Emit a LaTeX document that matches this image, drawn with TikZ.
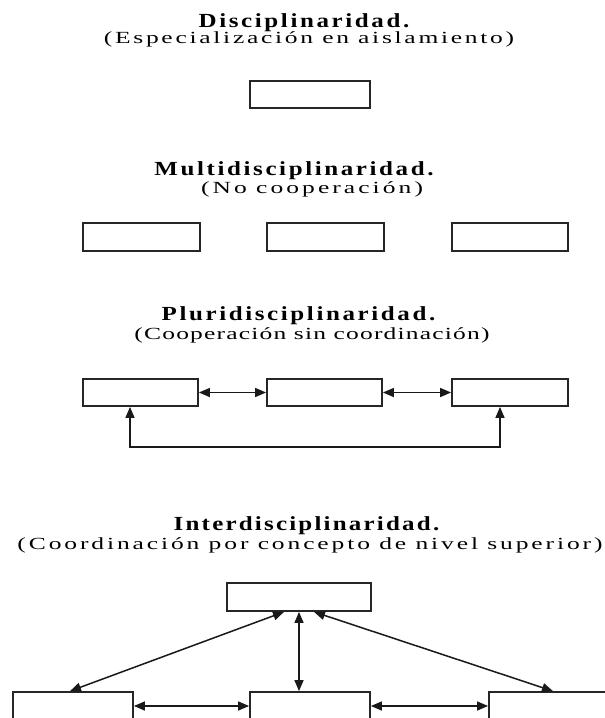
\documentclass[tikz,border=0pt]{standalone}
\usepackage{fontspec}
\setmainfont{Liberation Serif}
\newfontfamily\ttlfont[FakeStretch=1.25,LetterSpace=13]{Liberation Serif}
\newfontfamily\subfont[FakeStretch=1.5,LetterSpace=15]{Liberation Serif}
\usetikzlibrary{arrows.meta,calc}
\tikzset{
  box/.style={draw=black!85,line width=1.8pt,inner sep=0pt,fill=white,minimum height=27pt},
  conn/.style={draw=black!90,line width=1.5pt,{Triangle[length=11pt,width=9pt]}-{Triangle[length=11pt,width=9pt]}},
  ttl/.style={anchor=base,inner sep=0pt,font=\ttlfont\bfseries\fontsize{20}{23}\selectfont},
  sub/.style={anchor=base,inner sep=0pt,font=\subfont\fontsize{17}{20}\selectfont}
}
\begin{document}
\begin{tikzpicture}[x=1pt,y=-1pt]
\useasboundingbox (0,0) rectangle (605,718);
\clip (0,0) rectangle (605,718);
% Disciplinaridad
\node[ttl] (t1) at (304,27) {Disciplinaridad.};
\node[sub] (s1) at (309,43) {\addfontfeature{LetterSpace=16}(Especialización en aislamiento)};
\node[box,minimum width=120pt] (d1) at (310,94.5) {};
% Multidisciplinaridad
\node[ttl] (t2) at (294,175) {Multidisciplinaridad.};
\node[sub] (s2) at (312,193) {\addfontfeature{LetterSpace=18}(No cooperación)};
\node[box,minimum width=117pt,minimum height=28pt] (m1) at (141.5,237) {};
\node[box,minimum width=117pt,minimum height=28pt] (m2) at (325.5,237) {};
\node[box,minimum width=116pt,minimum height=28pt] (m3) at (510,237) {};
% Pluridisciplinaridad
\node[ttl] (t3) at (298.5,320) {Pluridisciplinaridad.};
\node[sub] (s3) at (312,339) {\addfontfeature{LetterSpace=7}(Cooperación sin coordinación)};
\node[box,minimum width=115pt] (p1) at (140.5,392.5) {};
\node[box,minimum width=115pt] (p2) at (324.5,392.5) {};
\node[box,minimum width=116pt] (p3) at (510,392.5) {};
\coordinate (lA) at (130,447);
\coordinate (lB) at (500,447);
\draw[conn] (p1.east) -- (p2.west);
\draw[conn] (p2.east) -- (p3.west);
\draw[conn] (p1.south -| lA) -- (lA) -- (lB) -- (p3.south -| lB);
% Interdisciplinaridad
\node[ttl] (t4) at (306.5,530) {\addfontfeature{LetterSpace=11}Interdisciplinaridad.};
\node[sub] (s4) at (310,549) {\addfontfeature{LetterSpace=17}(Coordinación por concepto de nivel superior)};
\node[box,minimum width=144pt,minimum height=28pt] (i0) at (299,597) {};
\node[box,minimum width=120pt,minimum height=28pt] (i1) at (73,706) {};
\node[box,minimum width=120pt,minimum height=28pt] (i2) at (310,706) {};
\node[box,minimum width=120pt,minimum height=28pt] (i3) at (549,706) {};
\draw[conn] ($(i0.south)+(-15,0)$) -- ($(i1.north)+(-3,0)$);
\draw[conn] (i0.south) -- (i0.south |- i2.north);
\draw[conn] ($(i0.south)+(15,0)$) -- ($(i3.north)+(4,0)$);
\draw[conn] (i1.east) -- (i2.west);
\draw[conn] (i2.east) -- (i3.west);
\end{tikzpicture}
\end{document}
